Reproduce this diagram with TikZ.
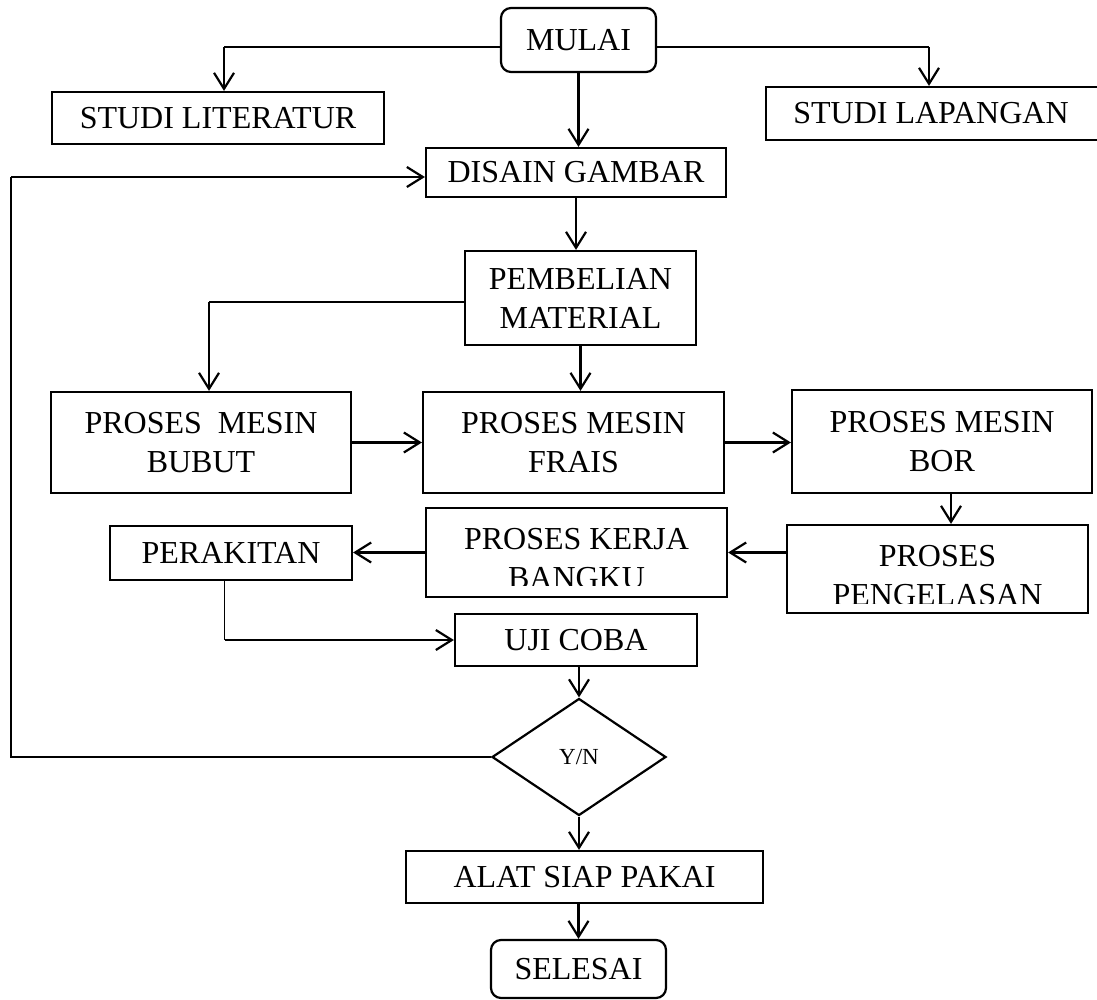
\documentclass[tikz,border=0pt]{standalone}
\usepackage{fontspec}
\setmainfont{Liberation Serif}
\usetikzlibrary{arrows.meta,shapes.geometric}
\begin{document}
\begin{tikzpicture}[x=0.5pt,y=-0.5pt,
  box/.style={draw,line width=1.1pt,inner sep=0pt,font=\fontsize{16}{19.5}\selectfont,align=center},
  rbox/.style={box,rounded corners=5pt},
  arr/.style={line width=1.1pt,-{Straight Barb[length=8pt,width=10pt,line width=1.1pt]}},
  thinln/.style={line width=0.6pt},
  txt/.style={inner sep=0pt,font=\fontsize{16}{19.5}\selectfont,align=center}]
\useasboundingbox (0,0) rectangle (1097,1000);
% nodes
\node[rbox,minimum width=77.5pt,minimum height=32pt] (mulai) at (578.5,40) {MULAI};
\node[box,minimum width=166pt,minimum height=26pt] (lit) at (218,118) {STUDI LITERATUR};
\node[box,minimum width=169.5pt,minimum height=26.5pt] (lap) at (935.5,113.5) {};
\node[txt] (lapt) at (931,113.5) {STUDI LAPANGAN};
\node[box,minimum width=150pt,minimum height=24.5pt] (dis) at (576,172.5) {DISAIN GAMBAR};
\node[box,minimum width=115.5pt,minimum height=47pt] (beli) at (580.5,298) {PEMBELIAN\\MATERIAL};
\node[box,minimum width=150pt,minimum height=50.5pt] (bubut) at (201,442.5) {PROSES\ \ MESIN\\BUBUT};
\node[box,minimum width=150.5pt,minimum height=50.5pt] (frais) at (573.5,442.5) {PROSES MESIN\\FRAIS};
\node[box,minimum width=150pt,minimum height=51.5pt] (bor) at (942,441.5) {PROSES MESIN\\BOR};
\node[box,minimum width=150.5pt,minimum height=44pt] (las) at (937.5,569) {};
\node[box,minimum width=150.5pt,minimum height=44.5pt] (kerja) at (576.5,552.5) {};
\node[box,minimum width=121pt,minimum height=27pt] (rakit) at (231,553) {PERAKITAN};
\node[box,minimum width=121pt,minimum height=26pt] (uji) at (576,640) {UJI COBA};
\node[draw,line width=1.1pt,diamond,inner sep=0pt,minimum width=87pt,minimum height=58.5pt,font=\fontsize{11.5}{13}\selectfont] (yn) at (579,757) {Y/N};
\node[box,minimum width=178.5pt,minimum height=26pt] (alat) at (584.5,877) {ALAT SIAP PAKAI};
\node[rbox,minimum width=87.5pt,minimum height=29pt] (selesai) at (578.5,969) {SELESAI};
% clipped texts
\begin{scope}
  \clip (kerja.north west) rectangle ([yshift=6.5pt]kerja.south east);
  \node[txt] (kerjat) at (576.5,559) {PROSES KERJA\\BANGKU};
\end{scope}
\begin{scope}
  \clip (las.north west) rectangle ([yshift=5.5pt]las.south east);
  \node[txt] (last) at (937.5,575.5) {PROSES\\PENGELASAN};
\end{scope}
% helper coordinates
\path ([yshift=-3.5pt]mulai.west) coordinate (mL);
\path ([yshift=-3.5pt]mulai.east) coordinate (mR);
\coordinate (cL) at (224,47);
\coordinate (cR) at (929,47);
\path ([yshift=-2pt]beli.west) coordinate (bW);
\coordinate (cB) at (209,302);
\path ([xshift=4.5pt]bor.south) coordinate (bS);
\path ([xshift=-3.25pt]rakit.south) coordinate (rS);
\coordinate (cU) at (rS |- uji.west);
\coordinate (cF1) at (11,757);
\coordinate (cF2) at (11,177);
% connectors
\draw[thinln] (mL) -- (cL);
\draw[arr] (cL) -- (cL |- lit.north);
\draw[thinln] (mR) -- (cR);
\draw[arr] (cR) -- (cR |- lap.north);
\draw[arr] (mulai.south) -- (mulai.south |- dis.north);
\draw[arr] (dis.south) -- (dis.south |- beli.north);
\draw[thinln] (bW) -- (cB);
\draw[arr] (cB) -- (cB |- bubut.north);
\draw[arr] (beli.south) -- (beli.south |- frais.north);
\draw[arr] (bubut.east) -- (bubut.east -| frais.west);
\draw[arr] (frais.east) -- (frais.east -| bor.west);
\draw[arr] (bS) -- (bS |- las.north);
\draw[arr] (kerja.east -| las.west) -- (kerja.east);
\draw[arr] (kerja.west) -- (kerja.west -| rakit.east);
\draw[thinln] (rS) -- (cU);
\draw[arr] (cU) -- (uji.west);
\draw[arr] (yn.north |- uji.south) -- (yn.north);
\draw[arr] (yn.south) -- (yn.south |- alat.north);
\draw[arr] (selesai.north |- alat.south) -- (selesai.north);
\draw[thinln] (yn.west) -- (cF1) -- (cF2);
\draw[arr] (cF2) -- (cF2 -| dis.west);
\end{tikzpicture}
\end{document}
